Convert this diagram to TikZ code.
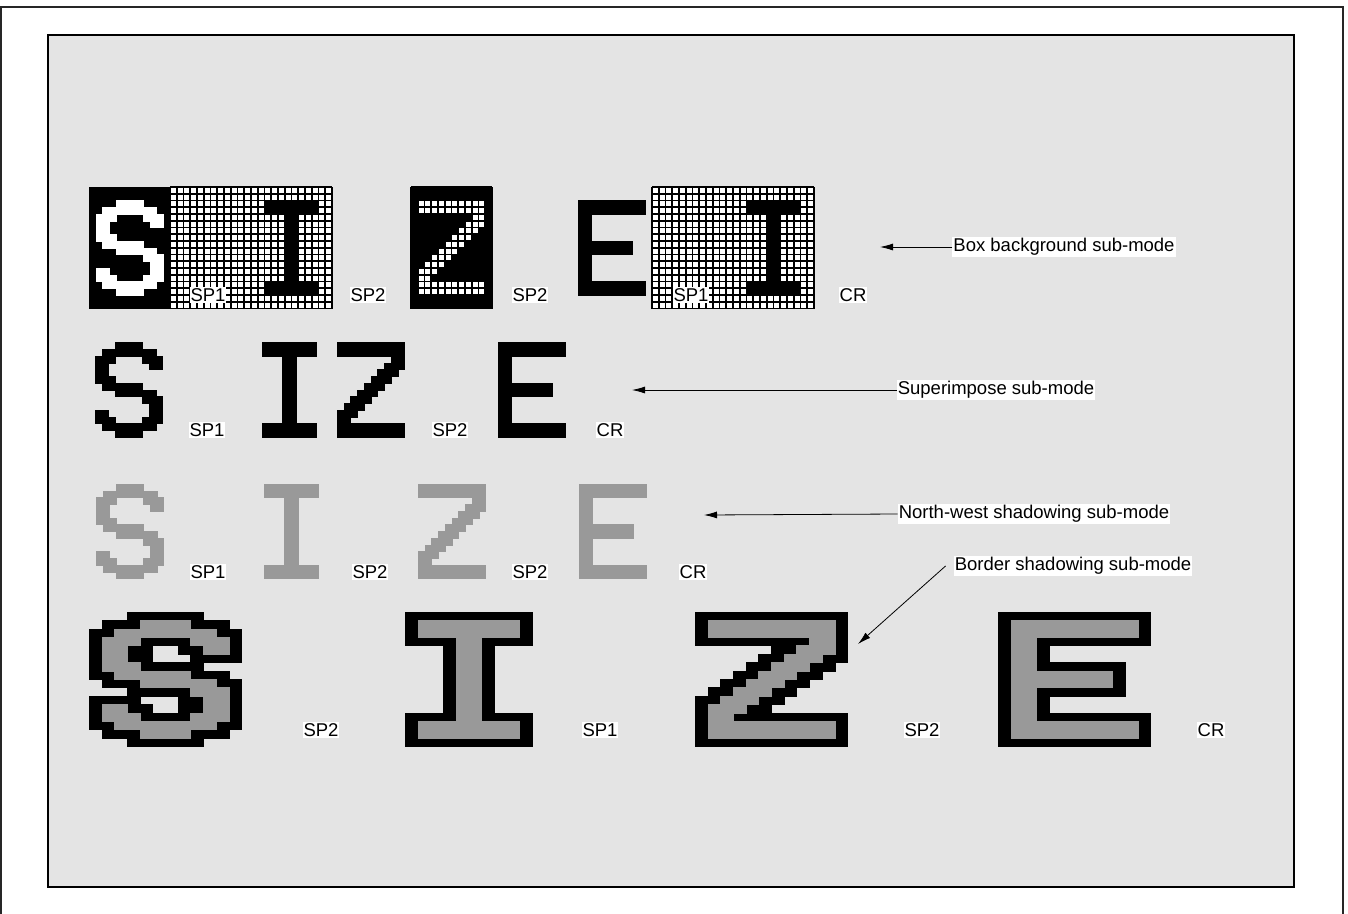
\documentclass[tikz,border=0pt]{standalone}
\usepackage{fontspec}
\setmainfont{Liberation Sans}
\usetikzlibrary{arrows.meta}
\definecolor{bggray}{HTML}{E4E4E4}
\definecolor{lgray}{HTML}{999999}
% glyph bitmaps as runs: row/firstcol/lastcol
\def\glyphS{0/3/6,1/1/8,2/0/2,2/7/9,3/0/1,3/8/9,4/0/1,5/0/2,6/1/6,7/3/8,8/7/9,9/8/9,10/0/1,10/8/9,11/0/2,11/7/9,12/1/8,13/3/6}
\def\glyphI{0/0/7,1/0/7,2/3/4,3/3/4,4/3/4,5/3/4,6/3/4,7/3/4,8/3/4,9/3/4,10/3/4,11/3/4,12/0/7,13/0/7}
\def\glyphZ{0/0/9,1/0/9,2/8/9,3/7/9,4/6/8,5/5/7,6/4/6,7/3/5,8/2/4,9/1/3,10/0/2,11/0/1,12/0/9,13/0/9}
\def\glyphE{0/0/9,1/0/9,2/0/1,3/0/1,4/0/1,5/0/1,6/0/7,7/0/7,8/0/1,9/0/1,10/0/1,11/0/1,12/0/9,13/0/9}
% #1 glyph, #2 x0, #3 y0, #4 cell width, #5 cell height, #6 colour
\newcommand\pxglyph[6]{\foreach \rr/\ca/\cb in #1 {\filldraw[fill=#6,draw=#6,line width=0.3pt] ({#2+\ca*#4},{#3+\rr*#5}) rectangle ({#2+(\cb+1)*#4},{#3+(\rr+1)*#5});}}
\newcommand\pxborder[5]{\foreach \rr/\ca/\cb in #1 {\filldraw[fill=black,draw=black,line width=0.3pt] ({#2+(\ca-1)*#4},{#3+(\rr-1)*#5}) rectangle ({#2+(\cb+2)*#4},{#3+(\rr+2)*#5});}}
% grid lines over a block: #1 x, #2 y, #3 cols, #4 rows
\newcommand\pxgrid[4]{%
  \foreach \ii in {0,...,#3} {\draw[gl] ({#1+\ii*6.75},#2) -- ({#1+\ii*6.75},{#2+#4*6.75});}
  \foreach \jj in {0,...,#4} {\draw[gl] (#1,{#2+\jj*6.75}) -- ({#1+#3*6.75},{#2+\jj*6.75});}}
\begin{document}
\begin{tikzpicture}[x=1pt,y=-1pt,
  lab/.style={fill=white,inner sep=1pt,font=\fontsize{18.5}{20}\selectfont},
  arr/.style={-{Latex[length=13pt,width=7pt]},line width=0.8pt},
  gl/.style={line width=1.6pt,black}]
\useasboundingbox (0,0) rectangle (1348,913);
\fill[white] (0,0) rectangle (1348,913);
\draw[line width=2pt,black!85] (1,7) rectangle (1343,940);
\filldraw[fill=bggray,draw=black,line width=2pt] (48,35) rectangle (1294,887);

% ---- row 1 : box background sub-mode
\fill[black] (89,187) rectangle (170,308.5);
\pxglyph{\glyphS}{95.75}{200.5}{6.75}{6.75}{white}
\fill[white] (170,187) rectangle (332,308.5);
\pxglyph{\glyphI}{264.5}{200.5}{6.75}{6.75}{black}
\pxgrid{170}{187}{24}{18}
\fill[black] (411,187) rectangle (492,308.5);
\pxglyph{\glyphZ}{417.75}{200.5}{6.75}{6.75}{white}
\pxgrid{411}{187}{12}{18}
\pxglyph{\glyphE}{578}{200.5}{6.75}{6.75}{black}
\fill[white] (652,187) rectangle (814,308.5);
\pxglyph{\glyphI}{746.5}{200.5}{6.75}{6.75}{black}
\pxgrid{652}{187}{24}{18}
\node[lab] (a1) at (208,295) {SP1};
\node[lab] (a2) at (368,295) {SP2};
\node[lab] (a3) at (530,295) {SP2};
\node[lab] (a4) at (691,295) {SP1};
\node[lab] (a5) at (853,295) {CR};

% ---- row 2 : superimpose sub-mode
\pxglyph{\glyphS}{95}{342.5}{6.75}{6.75}{black}
\pxglyph{\glyphI}{262}{342.5}{6.75}{6.75}{black}
\pxglyph{\glyphZ}{337}{342.5}{6.75}{6.75}{black}
\pxglyph{\glyphE}{498}{342.5}{6.75}{6.75}{black}
\node[lab] (b1) at (207,430) {SP1};
\node[lab] (b2) at (450,430) {SP2};
\node[lab] (b3) at (610,430) {CR};

% ---- row 3 : north-west shadowing sub-mode
\pxglyph{\glyphS}{96}{484}{6.75}{6.75}{lgray}
\pxglyph{\glyphI}{264}{484}{6.75}{6.75}{lgray}
\pxglyph{\glyphZ}{418}{484}{6.75}{6.75}{lgray}
\pxglyph{\glyphE}{579}{484}{6.75}{6.75}{lgray}
\node[lab] (c1) at (208,572) {SP1};
\node[lab] (c2) at (370,572) {SP2};
\node[lab] (c3) at (530,572) {SP2};
\node[lab] (c4) at (693,572) {CR};

% ---- row 4 : border shadowing sub-mode
\pxborder{\glyphS}{101.7}{620.4}{12.7}{8.4}
\pxglyph{\glyphS}{101.7}{620.4}{12.7}{8.4}{lgray}
\pxborder{\glyphI}{417.7}{620.4}{12.7}{8.4}
\pxglyph{\glyphI}{417.7}{620.4}{12.7}{8.4}{lgray}
\pxborder{\glyphZ}{707.7}{620.4}{12.7}{8.4}
\pxglyph{\glyphZ}{707.7}{620.4}{12.7}{8.4}{lgray}
\pxborder{\glyphE}{1010.7}{620.4}{12.7}{8.4}
\pxglyph{\glyphE}{1010.7}{620.4}{12.7}{8.4}{lgray}
\node[lab] (d1) at (321,730) {SP2};
\node[lab] (d2) at (600,730) {SP1};
\node[lab] (d3) at (922,730) {SP2};
\node[lab] (d4) at (1211,730) {CR};

% ---- mode labels and arrows
\node[lab] (lbox) at (1064,247) {Box background sub-mode};
\node[lab] (lsup) at (996,390) {Superimpose sub-mode};
\node[lab] (lnw) at (1034,514) {North-west shadowing sub-mode};
\node[lab] (lbor) at (1073,566) {Border shadowing sub-mode};
\coordinate (tbox) at (880,247);
\coordinate (tsup) at (632,390);
\coordinate (tnw) at (704,515);
\coordinate (tbor) at (858,644);
\draw[arr] (lbox.west) -- (tbox);
\draw[arr] (lsup.west) -- (tsup);
\draw[arr] (lnw.west) -- (tnw);
\draw[arr] ([xshift=-8pt]lbor.west) -- (tbor);
\end{tikzpicture}
\end{document}
